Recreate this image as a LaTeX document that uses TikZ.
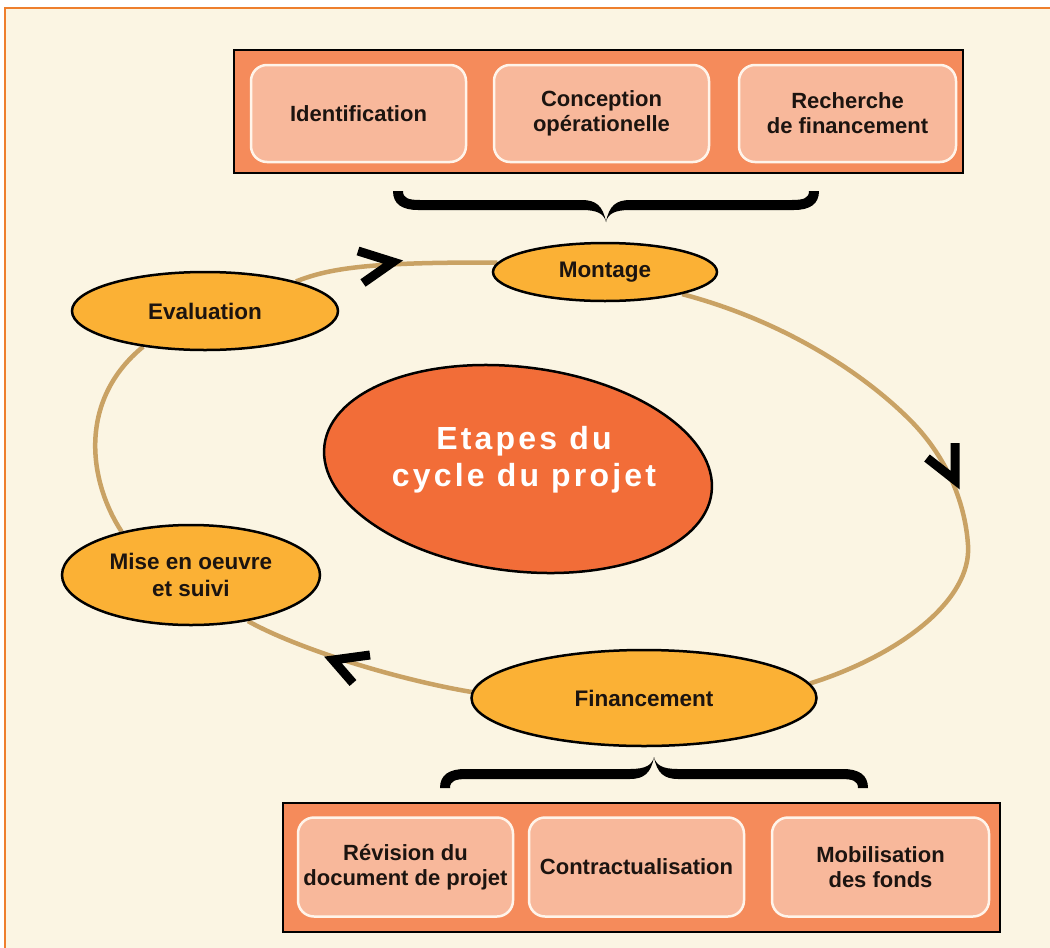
\documentclass[tikz,border=0pt]{standalone}
\usepackage{fontspec}
\setmainfont{Liberation Sans}
\newfontfamily\titlefont[LetterSpace=10]{Liberation Sans}
\usetikzlibrary{shapes.geometric}
\definecolor{bgcream}{HTML}{FBF5E3}
\definecolor{framec}{HTML}{EE7F2D}
\definecolor{boxorange}{HTML}{F58B5B}
\definecolor{boxpink}{HTML}{F8B89B}
\definecolor{boxedge}{HTML}{FFF4EA}
\definecolor{stepyellow}{HTML}{FBB135}
\definecolor{centreorange}{HTML}{F26D38}
\definecolor{pathtan}{HTML}{C9A264}
\definecolor{textdark}{HTML}{1C1410}
\pgfdeclarelayer{bglayer}
\pgfdeclarelayer{pathlayer}
\pgfsetlayers{bglayer,pathlayer,main}
\newcommand\bracehalfpath[1]{%
  \fill (0,0) .. controls (2,-8) and (8,-12) .. (24,-12) -- ({#1-22},-12)
    .. controls ({#1-6},-12) and ({#1+3},-18) .. ({#1+3},-31) -- ({#1-7},-31)
    .. controls ({#1-7},-24) and ({#1-12},-22) .. ({#1-24},-22) -- (24,-22)
    .. controls (10,-22) and (3,-16) .. (0,0) -- cycle;}
\begin{document}
\begin{tikzpicture}[x=1pt,y=-1pt,
  outerbox/.style={draw=black,line width=2.5pt,fill=boxorange,inner sep=0pt,rectangle},
  subbox/.style={draw=boxedge,line width=2.5pt,fill=boxpink,rounded corners=16pt,inner sep=0pt,
    minimum height=97pt,align=center,font=\fontsize{22}{25}\selectfont\bfseries,text=textdark},
  stage/.style={ellipse,draw=black,line width=2.5pt,fill=stepyellow,inner sep=0pt,align=center,
    font=\fontsize{22.5}{27}\selectfont\bfseries,text=textdark},
  cyc/.style={draw=pathtan,line width=4.5pt},
  chev/.style={draw=black,line width=9pt,line cap=butt,line join=miter}
]
\useasboundingbox (0,0) rectangle (1050,948);
\begin{pgfonlayer}{bglayer}
\fill[white] (0,0) rectangle (1050,948);
\fill[bgcream] (5,8) rectangle (1050,948);
\draw[framec,line width=2.5pt] (1050,8) -- (5,8) -- (5,948);
\end{pgfonlayer}

% top group
\node[outerbox,minimum width=729pt,minimum height=123pt] (topbox) at (598.5,111.5) {};
\node[subbox,minimum width=215pt] (ident) at (358.5,113.5) {Identification};
\node[subbox,minimum width=215pt] (concep) at (601.5,113.5) {Conception\\opérationelle};
\node[subbox,minimum width=217pt] (rech) at (847.5,113.5) {Recherche\\de financement};

% bottom group
\node[outerbox,minimum width=717pt,minimum height=129pt] (botbox) at (641.5,867.5) {};
\node[subbox,minimum width=215pt,minimum height=99pt] (revis) at (405.5,867) {Révision du\\document de projet};
\node[subbox,minimum width=215pt,minimum height=99pt] (contr) at (636.5,867) {Contractualisation};
\node[subbox,minimum width=217pt,minimum height=99pt] (mobil) at (880.5,867) {Mobilisation\\des fonds};

% braces
\begin{scope}[shift={(606,222)}]
  \bracehalfpath{210}
  \begin{scope}[xscale=-1]\bracehalfpath{210}\end{scope}
\end{scope}
\begin{scope}[shift={(654,757)},yscale=-1]
  \bracehalfpath{211}
  \begin{scope}[xscale=-1]\bracehalfpath{211}\end{scope}
\end{scope}

% stages
\node[stage,minimum width=266pt,minimum height=78pt] (eval) at (205,311) {Evaluation};
\node[stage,minimum width=224pt,minimum height=58pt] (mont) at (605,272) {Montage};
\node[stage,minimum width=345pt,minimum height=96pt] (fin) at (644,698) {Financement};
\node[stage,minimum width=258pt,minimum height=100pt] (mise) at (191,575) {Mise en oeuvre\\et suivi};

% centre
\node[ellipse,draw=black,line width=2.5pt,fill=centreorange,minimum width=390pt,minimum height=204pt,
  rotate=-7,inner sep=0pt] (centre) at (518,469) {};
\node[text=white,align=center,font=\titlefont\fontsize{32}{37}\selectfont\bfseries] (title) at (524,460)
  {Etapes du\\cycle du projet};

% cycle
\begin{pgfonlayer}{pathlayer}
\draw[cyc] (eval.18) .. controls (330,268) and (370,262) .. (mont.175);
\draw[cyc] (mont.-16) .. controls (780,320) and (860,370) .. (910,420)
  .. controls (945,455) and (965,500) .. (968,545)
  .. controls (972,600) and (900,655) .. (fin.5);
\draw[cyc] (fin.178) .. controls (400,680) and (300,650) .. (mise.-39);
\draw[cyc] (mise.148) .. controls (88,480) and (78,400) .. (eval.-150);
\end{pgfonlayer}

% chevrons
\draw[chev] (358,251) -- (393,262) -- (363,283);
\draw[chev] (927,458) -- (955,480) -- (955,443);
\draw[chev] (370,655) -- (333,660) -- (353,683);
\end{tikzpicture}
\end{document}
